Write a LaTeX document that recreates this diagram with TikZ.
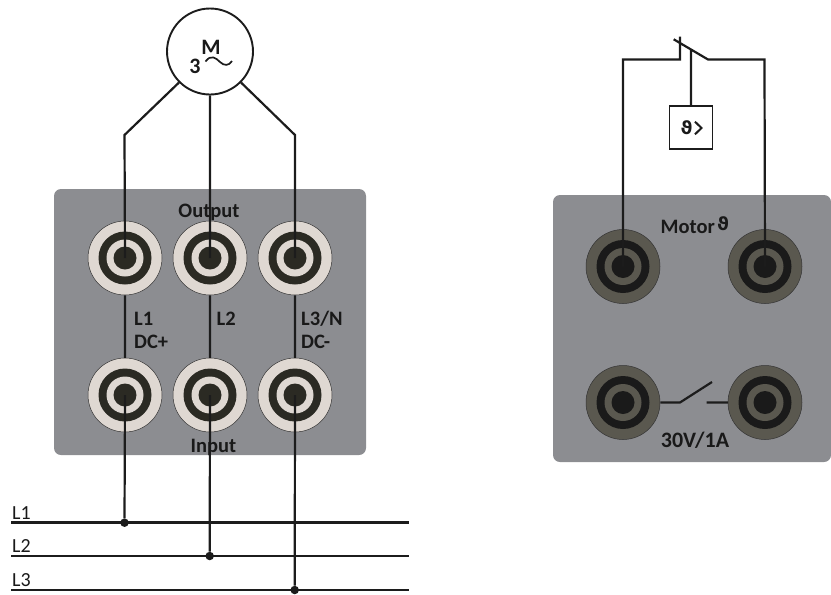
\documentclass[tikz,border=0pt]{standalone}
\usepackage{fontspec}
\setmainfont{Carlito}
\newfontfamily\symfont{DejaVu Sans}
\usetikzlibrary{positioning}
\definecolor{panelgray}{HTML}{8C8D91}
\definecolor{sockpale}{HTML}{DFD8D2}
\definecolor{sockdark}{HTML}{2B2A23}
\definecolor{sockolive}{HTML}{5A584F}
\definecolor{sockblack}{HTML}{1A1A1A}
\definecolor{wire}{HTML}{1C1C1C}

\begin{document}
\begin{tikzpicture}[x=1pt,y=-1pt,node distance=85pt,on grid,
		panel/.style={rectangle,rounded corners=7pt,fill=panelgray,inner sep=0pt},
		sock/.style 2 args={circle,draw=black!80,line width=0.5pt,fill=#1,inner sep=0pt,minimum size=74pt,
			path picture={
				\fill[#2] (path picture bounding box.center) circle (26.5pt);
				\fill[#1] (path picture bounding box.center) circle (18.5pt);
				\fill[#2] (path picture bounding box.center) circle (11.5pt);
			}},
		paleSock/.style={sock={sockpale}{sockdark}},
		darkSock/.style={sock={sockolive}{sockblack}},
		lbl/.style={font=\bfseries\fontsize{20.5}{20.5}\selectfont,text=black!90,inner sep=0pt},
		big/.style={lbl,font=\bfseries\fontsize{22}{22}\selectfont},
		side/.style={lbl,anchor=west},
		bus/.style={font=\fontsize{20}{20}\selectfont,text=black!90,inner sep=0pt,anchor=base west},
		dot/.style={circle,fill=wire,inner sep=0pt,minimum size=8.5pt},
		sym/.style={font=\symfont\bfseries\fontsize{18}{18}\selectfont,text=black!90,inner sep=0pt},
		wr/.style={draw=wire,line width=2.2pt}]
		\useasboundingbox (0,0) rectangle (831,595);
		
		% left unit
		\node[panel,minimum width=312pt,minimum height=266pt] (leftpanel) at (210,322) {};
		\node[paleSock] (out1) at (125,258) {};
		\node[paleSock] (out2) [right=of out1] {};
		\node[paleSock] (out3) [right=of out2] {};
		\node[paleSock] (in1)  at (125,395) {};
		\node[paleSock] (in2)  [right=of in1] {};
		\node[paleSock] (in3)  [right=of in2] {};
		
		\node[circle,draw=wire,line width=1.9pt,fill=white,minimum size=86pt,inner sep=0pt] (motor) at (210,51.5) {};
		\node[big] (motorM) at (211,47) {M};
		\node[big] (motor3) at (195,66.5) {3};
		\draw[wire,line width=1.7pt] (205.5,61.5) .. controls (211,54) and (216,58) .. (220,62) .. controls (224,66) and (229,66) .. (232,61);
		
		\coordinate (bend1) at (124.5,135);
		\coordinate (bend3) at (295,135);
		\coordinate (bus1w) at (11,522.7);
		\coordinate (bus1e) at (409,522.7);
		\coordinate (bus2w) at (11,556);
		\coordinate (bus2e) at (409,556);
		\coordinate (bus3w) at (11,590);
		\coordinate (bus3e) at (409,590);
		\node[dot] (tap1) at (124.5,522.7) {};
		\node[dot] (tap2) at (209.7,556) {};
		\node[dot] (tap3) at (294.7,590) {};
		
		\path[wr]
		(motor.225) -- (bend1) -- (out1.center)
		(motor.south) -- (out2.center)
		(motor.-45) -- (bend3) -- (out3.center)
		(out1.south) -- (in1.north)
		(out2.south) -- (in2.north)
		(out3.south) -- (in3.north)
		(in1.center) -- (tap1)
		(in2.center) -- (tap2)
		(in3.center) -- (tap3);
		\draw[wr,line width=2.6pt] (bus1w) -- (bus1e);
		\draw[wr,line width=1.8pt] (bus2w) -- (bus2e);
		\draw[wr,line width=1.8pt] (bus3w) -- (bus3e);
		
		\node[lbl] (output) at (209,212.5) {Output};
		\node[lbl] (input) at (213.5,447.5) {Input};
		\node[side] (l1) at (134,318.5) {L1};
		\node[side] (dcp) at (134,342) {DC+};
		\node[side] (l2) at (216.5,318.5) {L2};
		\node[side] (l3n) at (301,318.5) {L3/N};
		\node[side] (dcm) at (301,342) {DC-};
		\node[bus] (busl1) at (12,519) {L1};
		\node[bus] (busl2) at (12,552.5) {L2};
		\node[bus] (busl3) at (12,586.5) {L3};
		
		% right unit
		\node[panel,minimum width=278pt,minimum height=267pt] (rightpanel) at (692,328.5) {};
		\node[darkSock] (mot1) at (623,266.5) {};
		\node[darkSock] (mot2) [right=142pt of mot1] {};
		\node[darkSock] (rel1) at (623,402.5) {};
		\node[darkSock] (rel2) [right=142pt of rel1] {};
		
		\node[rectangle,draw=wire,line width=1.9pt,fill=white,minimum size=43pt,inner sep=0pt] (sensor) at (691,127.5) {};
		\node[sym] (sensortheta) at (686.5,128) {ϑ};
		\draw[wire,line width=2pt] (695,121.7) -- (701.5,128) -- (695,134.3);
		\coordinate (top1) at (623,59.5);
		\coordinate (top2) at (680,59.5);
		\coordinate (tick) at (680,36.5);
		\coordinate (arm1) at (673.7,39.3);
		\coordinate (arm2) at (708,59.5);
		\coordinate (armmid) at (691,49.5);
		\coordinate (top3) at (764.5,59.5);
		\coordinate (sw1) at (680,402.5);
		\coordinate (sw2) at (712,382);
		\coordinate (sw3) at (706.7,402.5);
		
		\path[wr]
		(mot1.center) -- (top1) -- (top2) -- (tick)
		(arm1) -- (arm2) -- (top3) -- (mot2.center)
		(armmid) -- (sensor.north)
		(rel1.east) -- (sw1) -- (sw2)
		(sw3) -- (rel2.west);
		
		\node[lbl,anchor=west] (motorlbl) at (660.5,226.5) {Motor};
		\node[sym] (motortheta) at (723,224) {ϑ};
		\node[big] (rating) at (695,440) {30V/1A};
\end{tikzpicture}
\end{document}
